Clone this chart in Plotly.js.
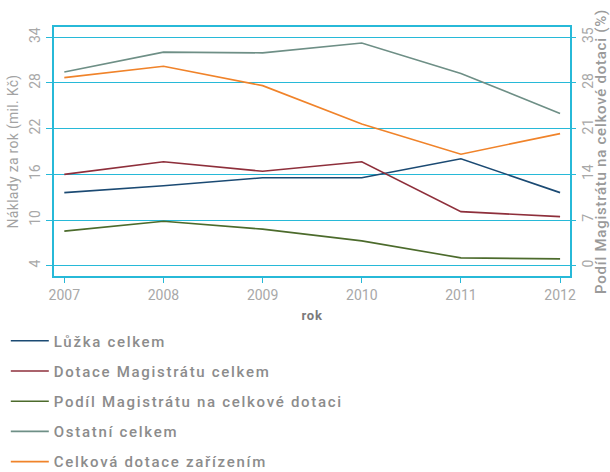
<!DOCTYPE html>
<html>
<head>
<meta charset="utf-8">
<script src="https://cdn.plot.ly/plotly-3.0.1.min.js"></script>
<style>
html,body{margin:0;padding:0;background:#fff;}
#chart{width:610px;height:472px;}
.legendtext{letter-spacing:1.7px;}
.g-ytitle text{letter-spacing:0.3px;}
.g-y2title text{letter-spacing:0.75px;}
.g-xtitle text{letter-spacing:0.8px;}
</style>
</head>
<body>
<div id="chart"></div>
<script>
var years = [2007, 2008, 2009, 2010, 2011, 2012];
var seriesNames = ["Lůžka celkem", "Dotace Magistrátu celkem", "Podíl Magistrátu na celkové dotaci", "Ostatní celkem", "Celková dotace zařízením"];
var luzka = [13.6, 14.5, 15.55, 15.55, 18.05, 13.6];
var dotaceMag = [16.0, 17.65, 16.4, 17.65, 11.1, 10.45];
var podilMag = [5.3, 6.8, 5.6, 3.8, 1.2, 1.05];
var ostatni = [29.45, 32.05, 31.95, 33.25, 29.25, 24.0];
var celkova = [28.7, 30.2, 27.65, 22.6, 18.65, 21.35];
var leftTicks = [4, 10, 16, 22, 28, 34];
var rightTicks = [0, 7, 14, 21, 28, 35];

var colors = ["#1b4a73", "#8e2f3b", "#4c6b2c", "#6e8f86", "#f0832a"];
var values = [luzka, dotaceMag, podilMag, ostatni, celkova];
var axes = ["y", "y", "y2", "y", "y"];

var cyan = "#27b9d8";
var fam = "Roboto, 'Liberation Sans', sans-serif";
var tickFont = {family: fam, size: 14, color: "#a8a8a8"};

var traces = values.map(function(v, i){
  return {
    x: years, y: v, name: seriesNames[i], yaxis: axes[i],
    type: "scatter", mode: "lines",
    line: {color: colors[i], width: 1.6},
    legendgroup: "g" + i
  };
});

var layout = {
  width: 610, height: 472,
  margin: {l: 54, r: 40, t: 27, b: 196, autoexpand: false},
  paper_bgcolor: "#fff", plot_bgcolor: "#fff",
  showlegend: true,
  legend: {
    orientation: "v", x: -0.0934, xanchor: "left", y: -0.195, yanchor: "top",
    tracegroupgap: 7.7, itemwidth: 38,
    font: {family: fam, size: 15, color: "#8c8c8c", weight: 500},
    bgcolor: "rgba(0,0,0,0)"
  },
  xaxis: {
    range: [2006.896, 2012.1],
    tickvals: years, ticktext: years.map(String),
    tickfont: tickFont,
    ticks: "outside", ticklen: 5, tickcolor: cyan, tickwidth: 1,
    showline: true, linecolor: cyan, linewidth: 2, mirror: true,
    showgrid: false, zeroline: false,
    title: {text: "rok", font: {family: fam, size: 13, color: "#7a7a7a", weight: "bold"}, standoff: 9}
  },
  yaxis: {
    range: [2.65, 35.35],
    tickvals: leftTicks, ticktext: leftTicks.map(String),
    tickangle: -90,
    tickfont: tickFont,
    ticks: "outside", ticklen: 6, tickcolor: cyan, tickwidth: 1,
    showline: true, linecolor: cyan, linewidth: 2, mirror: true,
    showgrid: true, gridcolor: cyan, gridwidth: 1,
    zeroline: false,
    title: {text: "Náklady za rok (mil. Kč)", font: {family: fam, size: 14, color: "#a3a3a3"}, standoff: 6}
  },
  yaxis2: {
    overlaying: "y", side: "right",
    range: [-1.58, 36.58],
    tickvals: rightTicks, ticktext: rightTicks.map(String),
    tickangle: -90,
    tickfont: tickFont,
    ticks: "outside", ticklen: 5, tickcolor: cyan, tickwidth: 1,
    showline: false, showgrid: false, zeroline: false,
    title: {text: "Podíl Magistrátu na celkové dotaci (%)", font: {family: fam, size: 15, color: "#9a9a9a", weight: 500}, standoff: 6}
  }
};

Plotly.newPlot("chart", traces, layout, {displayModeBar: false, staticPlot: true});
</script>
</body>
</html>
